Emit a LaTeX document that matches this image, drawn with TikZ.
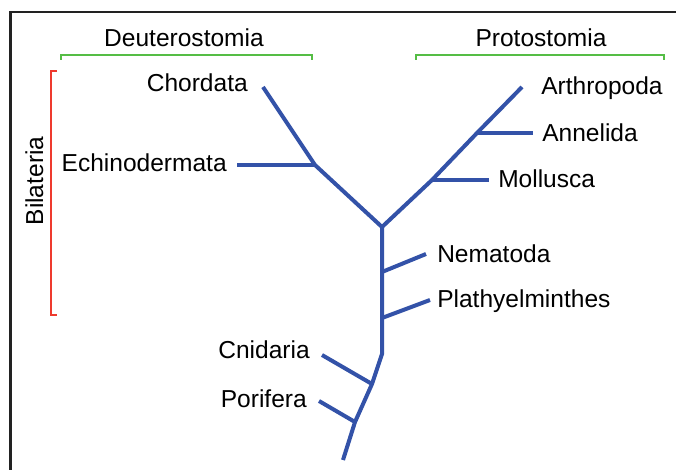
\documentclass[tikz,border=0pt]{standalone}
\usepackage{fontspec}
\setmainfont{Liberation Sans}
\usepackage{tikz}
\usepackage{xcolor}
\definecolor{BranchBlue}{HTML}{3352A8}
\definecolor{CladeGreen}{HTML}{55BD45}
\definecolor{CladeRed}{HTML}{EE3A2E}
\definecolor{FrameGrey}{HTML}{222222}
\tikzstyle{TaxonLabel} =[inner sep=0pt,font=\fontsize{18.4}{22}\selectfont]
\tikzstyle{Branch} =[draw=BranchBlue,line width=3pt,line join=miter]
\tikzstyle{CladeBracket} =[line width=2.1pt]
\tikzstyle{Frame} =[draw=FrameGrey,line width=2.1pt]

\begin{document}
\begin{tikzpicture}[x=0.75pt,y=-0.75pt]
\useasboundingbox (0,0) rectangle (676,470);
\draw[Frame] (10.5,470) -- (10.5,12) -- (676,12);
\coordinate (Root) at (382,227);
\coordinate (Chordata-Tip) at (263,87);
\coordinate (Echinodermata-Fork) at (315,165);
\coordinate (Echinodermata-Tip) at (237,165);
\coordinate (Mollusca-Fork) at (432,180);
\coordinate (Mollusca-Tip) at (489,180);
\coordinate (Annelida-Fork) at (477,133);
\coordinate (Annelida-Tip) at (533,133);
\coordinate (Arthropoda-Tip) at (522,87);
\coordinate (Nematoda-Fork) at (382,272);
\coordinate (Nematoda-Tip) at (426,254);
\coordinate (Plathyelminthes-Fork) at (382,318);
\coordinate (Plathyelminthes-Tip) at (430,300);
\coordinate (Trunk-End) at (382,354);
\coordinate (Cnidaria-Fork) at (372,384);
\coordinate (Cnidaria-Tip) at (322,355);
\coordinate (Porifera-Fork) at (355,422);
\coordinate (Porifera-Tip) at (319,401);
\coordinate (Base) at (343,460);
\node[TaxonLabel,anchor=base] (Deuterostomia) at (184,46.7) {Deuterostomia};
\node[TaxonLabel,anchor=base] (Protostomia) at (541,46.7) {Protostomia};
\node[TaxonLabel,anchor=base,rotate=90] (Bilateria) at (43,181) {Bilateria};
\node[TaxonLabel,anchor=base east] (Chordata) at (248,92) {Chordata};
\node[TaxonLabel,anchor=base east] (Echinodermata) at (227,172) {Echinodermata};
\node[TaxonLabel,anchor=base west] (Arthropoda) at (541,95) {Arthropoda};
\node[TaxonLabel,anchor=base west] (Annelida) at (542,141.5) {Annelida};
\node[TaxonLabel,anchor=base west] (Mollusca) at (498,187.5) {Mollusca};
\node[TaxonLabel,anchor=base west] (Nematoda) at (437,263) {Nematoda};
\node[TaxonLabel,anchor=base west] (Plathyelminthes) at (437,308) {Plathyelminthes};
\node[TaxonLabel,anchor=base east] (Cnidaria) at (310,359) {Cnidaria};
\node[TaxonLabel,anchor=base east] (Porifera) at (307,407.5) {Porifera};
\draw[CladeBracket,draw=CladeGreen] (61,60) -- (61,55) -- (312,55) -- (312,60);
\draw[CladeBracket,draw=CladeGreen] (416,60) -- (416,55) -- (664,55) -- (664,60);
\draw[CladeBracket,draw=CladeRed] (57,71) -- (51,71) -- (51,315) -- (57,315);
\draw[Branch] (Chordata-Tip) -- (Echinodermata-Fork) -- (Root) -- (Mollusca-Fork) -- (Annelida-Fork) -- (Arthropoda-Tip);
\draw[Branch] (Echinodermata-Tip) -- (Echinodermata-Fork);
\draw[Branch] (Mollusca-Fork) -- (Mollusca-Tip);
\draw[Branch] (Annelida-Fork) -- (Annelida-Tip);
\draw[Branch] (Root) -- (Trunk-End) -- (Cnidaria-Fork) -- (Porifera-Fork) -- (Base);
\draw[Branch] (Nematoda-Fork) -- (Nematoda-Tip);
\draw[Branch] (Plathyelminthes-Fork) -- (Plathyelminthes-Tip);
\draw[Branch] (Cnidaria-Fork) -- (Cnidaria-Tip);
\draw[Branch] (Porifera-Fork) -- (Porifera-Tip);
\end{tikzpicture}
\end{document}
